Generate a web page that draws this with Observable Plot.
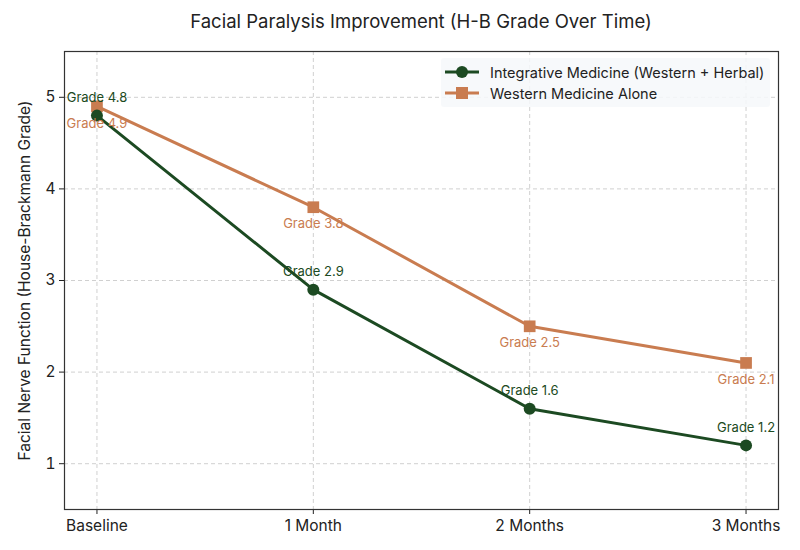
<!DOCTYPE html>
<html><head><meta charset="utf-8">
<script src="https://cdn.jsdelivr.net/npm/d3@7"></script>
<script src="https://cdn.jsdelivr.net/npm/@observablehq/plot@0.6"></script>
<style>
body{margin:0;background:#fff;font-family:Inter,"Noto Sans",sans-serif;}
#wrap{position:relative;width:800px;height:550px;overflow:hidden;}
#title{height:40px;line-height:42px;text-align:center;font-size:18.5px;color:#222;padding-left:42px;box-sizing:border-box;}
#legend{position:absolute;left:441px;top:58px;width:329px;height:49px;background:rgba(246,248,250,0.85);border-radius:3px;font-size:14.5px;color:#222;}
.row{position:absolute;left:4px;height:20px;display:flex;align-items:center;}
.row svg{margin-right:11px;}
</style>
</head><body>
<div id="wrap">
<div id="title">Facial Paralysis Improvement (H-B Grade Over Time)</div>
<div id="chart"></div>
<div id="legend"></div>
</div>
<script>
const timepoints = ["Baseline", "1 Month", "2 Months", "3 Months"];
const integrative = [4.8, 2.9, 1.6, 1.2];
const western = [4.9, 3.8, 2.5, 2.1];
const seriesNames = ["Integrative Medicine (Western + Herbal)", "Western Medicine Alone"];
const seriesColors = ["#1c4a22", "#c97c50"];
const yTicks = [1, 2, 3, 4, 5];

const dataI = timepoints.map((t, i) => ({t, v: integrative[i]}));
const dataW = timepoints.map((t, i) => ({t, v: western[i]}));

const chart = Plot.plot({
  width: 800,
  height: 510,
  marginTop: 11,
  marginBottom: 41,
  marginLeft: 64,
  marginRight: 22,
  style: {fontFamily: "Inter, sans-serif", fontSize: "16px", color: "#222", background: "#fff"},
  x: {type: "point", domain: timepoints, padding: 0.15, round: false, label: null},
  y: {domain: [0.5, 5.5], ticks: yTicks, tickFormat: "d", label: "Facial Nerve Function (House-Brackmann Grade)"},
  marks: [
    Plot.gridX(timepoints, {stroke: "#d0d0d0", strokeOpacity: 1, strokeDasharray: "4,3"}),
    Plot.gridY(yTicks, {stroke: "#d0d0d0", strokeOpacity: 1, strokeDasharray: "4,3"}),
    Plot.axisX({tickSize: 5, tickPadding: 5, fontSize: 15.5, label: null}),
    Plot.axisY(yTicks, {tickSize: 5, tickPadding: 4, fontSize: 15.5, tickFormat: "d", label: "Facial Nerve Function (House-Brackmann Grade)", labelAnchor: "center", labelArrow: "none", labelOffset: 46}),
    Plot.line(dataW, {x: "t", y: "v", stroke: seriesColors[1], strokeWidth: 3}),
    Plot.line(dataI, {x: "t", y: "v", stroke: seriesColors[0], strokeWidth: 3}),
    Plot.dot(dataW, {x: "t", y: "v", symbol: "square", r: 6.6, fill: seriesColors[1]}),
    Plot.dot(dataI, {x: "t", y: "v", symbol: "circle", r: 6, fill: seriesColors[0]}),
    Plot.text(dataI, {x: "t", y: "v", text: d => "Grade " + d.v, dy: -18, fill: seriesColors[0], fontSize: 13}),
    Plot.text(dataW, {x: "t", y: "v", text: d => "Grade " + d.v, dy: 17, fill: seriesColors[1], fontSize: 13}),
    Plot.frame({stroke: "#333", strokeWidth: 1.2})
  ]
});
document.getElementById("chart").appendChild(chart);

const legend = document.getElementById("legend");
seriesNames.forEach((name, i) => {
  const row = document.createElement("div");
  row.className = "row";
  row.style.top = (4 + i * 21) + "px";
  const sym = i === 0
    ? `<circle cx="17" cy="10" r="6" fill="${seriesColors[i]}"/>`
    : `<rect x="11" y="4" width="12" height="12" fill="${seriesColors[i]}"/>`;
  row.innerHTML = `<svg width="34" height="20"><line x1="0" x2="34" y1="10" y2="10" stroke="${seriesColors[i]}" stroke-width="3"/>${sym}</svg><span>${name}</span>`;
  legend.appendChild(row);
});
</script>
</body></html>
